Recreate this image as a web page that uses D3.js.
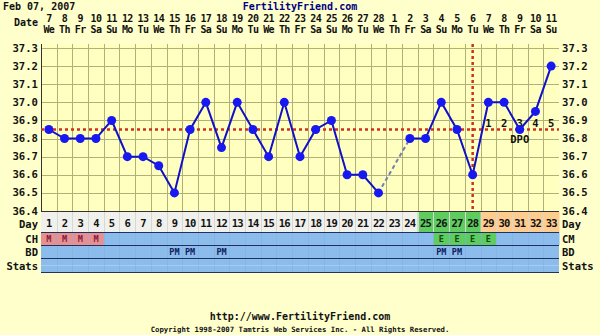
<!DOCTYPE html>
<html><head><meta charset="utf-8">
<script src="https://cdn.jsdelivr.net/npm/d3@7"></script>
<style>
html,body{margin:0;padding:0;background:#FFFFCC;}
svg{display:block;}
text{font-family:"DejaVu Sans Mono",monospace;font-weight:bold;}
</style></head><body>
<script>
const dayNumbers = d3.range(1, 34);
const dateLabels = ["7","8","9","10","11","12","13","14","15","16","17","18","19","20","21","22","23","24","25","26","27","28","1","2","3","4","5","6","7","8","9","10","11"];
const weekdays = ["We","Th","Fr","Sa","Su","Mo","Tu","We","Th","Fr","Sa","Su","Mo","Tu","We","Th","Fr","Sa","Su","Mo","Tu","We","Th","Fr","Sa","Su","Mo","Tu","We","Th","Fr","Sa","Su"];
const temps = [36.85,36.8,36.8,36.8,36.9,36.7,36.7,36.65,36.5,36.85,37.0,36.75,37.0,36.85,36.7,37.0,36.7,36.85,36.9,36.6,36.6,36.5,null,36.8,36.8,37.0,36.85,36.6,37.0,37.0,36.85,36.95,37.2];
const yTicks = [36.4,36.5,36.6,36.7,36.8,36.9,37.0,37.1,37.2,37.3];
const cmValues = ["M","M","M","M","","","","","","","","","","","","","","","","","","","","","","E","E","E","E","","","",""];
const bdValues = ["","","","","","","","","PM","PM","","PM","","","","","","","","","","","","","","PM","PM","","","","","",""];
const dayPhase = ["n","n","n","n","n","n","n","n","n","n","n","n","n","n","n","n","n","n","n","n","n","n","n","n","f","f","f","f","l","l","l","l","l"];
const coverline = 36.85;
const ovulationDay = 28;
const dpoLabels = ["1","2","3","4","5"];

const W = 600, H = 335;
const svg = d3.select("body").append("svg").attr("width", W).attr("height", H);
svg.append("rect").attr("width", W).attr("height", H).attr("fill", "#FFFFCC");

const x = d3.scaleBand().domain(dayNumbers).range([41, 559]).padding(0);
const xc = d => x(d) + x.bandwidth() / 2;
const y = d3.scaleLinear().domain([36.4, 37.3]).range([211, 48]);

// plot background
svg.append("rect").attr("x", 41).attr("y", 44).attr("width", 518).attr("height", 167).attr("fill", "#FFFFC0");

// grid
const grid = svg.append("g").attr("stroke", "#B0B078").attr("stroke-width", 1);
grid.selectAll("line.v").data(dayNumbers.slice(1)).join("line")
  .attr("x1", d => Math.round(x(d)) + 0.5).attr("x2", d => Math.round(x(d)) + 0.5)
  .attr("y1", 44).attr("y2", 211);
grid.selectAll("line.h").data(yTicks.slice(1)).join("line")
  .attr("x1", 41).attr("x2", 559)
  .attr("y1", d => Math.round(y(d)) + 0.5).attr("y2", d => Math.round(y(d)) + 0.5);
svg.append("line").attr("x1", 41.5).attr("x2", 41.5).attr("y1", 44).attr("y2", 212).attr("stroke", "#333").attr("stroke-width", 1);
svg.append("line").attr("x1", 41).attr("x2", 559).attr("y1", 211.5).attr("y2", 211.5).attr("stroke", "#333");

// y axis labels
const yl = svg.append("g").attr("font-size", 10.6).attr("fill", "#111");
yl.selectAll("text.l").data(yTicks).join("text")
  .attr("x", 38).attr("y", d => y(d) + 3.5).attr("text-anchor", "end")
  .text(d => d.toFixed(1));
yl.selectAll("text.r").data(yTicks).join("text")
  .attr("x", 562).attr("y", d => y(d) + 3.5).attr("text-anchor", "start")
  .text(d => d.toFixed(1));

// header
svg.append("text").attr("x", 3).attr("y", 9.5).attr("font-size", 10).attr("fill", "#111").text("Feb 07, 2007");
svg.append("text").attr("x", 300).attr("y", 9.5).attr("font-size", 10).attr("fill", "#000080").attr("text-anchor", "middle").text("FertilityFriend.com");
svg.append("text").attr("x", 38).attr("y", 26).attr("font-size", 10).attr("fill", "#111").attr("text-anchor", "end").text("Date");
svg.append("g").selectAll("text").data(dayNumbers).join("text")
  .attr("x", d => xc(d)).attr("y", 22).attr("font-size", 10).attr("fill", "#111")
  .attr("text-anchor", "middle").attr("letter-spacing", -0.6).text(d => dateLabels[d - 1]);
svg.append("g").selectAll("text").data(dayNumbers).join("text")
  .attr("x", d => xc(d)).attr("y", 33).attr("font-size", 10).attr("fill", "#111")
  .attr("text-anchor", "middle").attr("letter-spacing", -0.6).text(d => weekdays[d - 1]);

// rows
const rowDay = [212, 232], rowCM = [232, 245], rowBD = [245, 258], rowSt = [258, 272];
const phaseColor = {n: "#F0F0EC", f: "#5FCC5F", l: "#FFCC90"};
svg.append("g").selectAll("rect").data(dayNumbers).join("rect")
  .attr("x", d => x(d)).attr("y", rowDay[0]).attr("width", x.bandwidth() + 0.5).attr("height", rowDay[1] - rowDay[0])
  .attr("fill", d => phaseColor[dayPhase[d - 1]]);
svg.append("g").selectAll("line").data(dayNumbers.slice(1)).join("line")
  .attr("x1", d => Math.round(x(d)) + 0.5).attr("x2", d => Math.round(x(d)) + 0.5)
  .attr("y1", rowDay[0]).attr("y2", rowDay[1]).attr("stroke", "#D8D8D0");
svg.append("g").selectAll("text").data(dayNumbers).join("text")
  .attr("x", d => xc(d)).attr("y", 227).attr("font-size", 10.5).attr("fill", "#111")
  .attr("text-anchor", "middle").attr("letter-spacing", -0.8).text(d => d);

const blue = "#8CBCEC";
svg.append("g").selectAll("rect").data(dayNumbers).join("rect")
  .attr("x", d => x(d)).attr("y", rowCM[0]).attr("width", x.bandwidth() + 0.5).attr("height", rowCM[1] - rowCM[0])
  .attr("fill", d => cmValues[d - 1] === "M" ? "#E89090" : cmValues[d - 1] === "E" ? "#5FCC5F" : blue);
svg.append("g").selectAll("text").data(dayNumbers.filter(d => cmValues[d - 1])).join("text")
  .attr("x", d => xc(d)).attr("y", 242).attr("font-size", 8.5).attr("text-anchor", "middle")
  .attr("fill", d => cmValues[d - 1] === "M" ? "#802040" : "#104810").text(d => cmValues[d - 1]);

svg.append("rect").attr("x", 41).attr("y", rowBD[0]).attr("width", 518).attr("height", rowBD[1] - rowBD[0]).attr("fill", blue);
svg.append("g").selectAll("text").data(dayNumbers.filter(d => bdValues[d - 1])).join("text")
  .attr("x", d => xc(d)).attr("y", 255).attr("font-size", 8.5).attr("text-anchor", "middle")
  .attr("fill", "#102060").text(d => bdValues[d - 1]);
svg.append("rect").attr("x", 41).attr("y", rowSt[0]).attr("width", 518).attr("height", rowSt[1] - rowSt[0]).attr("fill", blue);
svg.append("line").attr("x1", 41).attr("x2", 559).attr("y1", 265.5).attr("y2", 265.5).attr("stroke", "#A8CCF0");
svg.append("g").selectAll("line").data(dayNumbers.slice(1)).join("line")
  .attr("x1", d => Math.round(x(d)) + 0.5).attr("x2", d => Math.round(x(d)) + 0.5)
  .attr("y1", rowCM[0]).attr("y2", rowSt[1]).attr("stroke", "#80B0E0").attr("stroke-opacity", 0.6);
const sep = svg.append("g").attr("stroke", "#203060");
[rowDay[1], rowCM[1], rowBD[1], rowSt[1]].forEach(v => sep.append("line").attr("x1", 41).attr("x2", 559).attr("y1", v + 0.5).attr("y2", v + 0.5));

const rowLabels = svg.append("g").attr("font-size", 10.5).attr("fill", "#111");
[["Day", 228], ["CH", 243], ["BD", 256], ["Stats", 270]].forEach(([t, yy]) =>
  rowLabels.append("text").attr("x", 38).attr("y", yy).attr("text-anchor", "end").text(t));
[["Day", 228], ["CM", 243], ["BD", 256], ["Stats", 270]].forEach(([t, yy]) =>
  rowLabels.append("text").attr("x", 562).attr("y", yy).text(t));

// coverline & ovulation line
svg.append("line").attr("x1", 41).attr("x2", 559).attr("y1", y(coverline)).attr("y2", y(coverline))
  .attr("stroke", "#D03020").attr("stroke-width", 2.5).attr("stroke-dasharray", "3,3");
svg.append("line").attr("x1", xc(ovulationDay)).attr("x2", xc(ovulationDay)).attr("y1", 44).attr("y2", 211)
  .attr("stroke", "#D03020").attr("stroke-width", 2.5).attr("stroke-dasharray", "3,3");

// dpo labels
svg.append("g").selectAll("text").data(dpoLabels).join("text")
  .attr("x", (d, i) => xc(ovulationDay + 1 + i)).attr("y", y(coverline) - 3).attr("font-size", 10.5)
  .attr("text-anchor", "middle").attr("fill", "#111").text(d => d);
svg.append("text").attr("x", xc(31)).attr("y", y(coverline) + 13).attr("font-size", 10.5)
  .attr("text-anchor", "middle").attr("fill", "#111").text("DPO");

// temperature line
const pts = dayNumbers.map(d => ({d, t: temps[d - 1]}));
const line = d3.line().defined(p => p.t !== null).x(p => xc(p.d)).y(p => y(p.t));
svg.append("path").datum(pts).attr("d", line).attr("fill", "none").attr("stroke", "#1010C8").attr("stroke-width", 2);
// gap dashed segments
const valid = pts.filter(p => p.t !== null);
const gaps = [];
for (let i = 1; i < valid.length; i++) if (valid[i].d - valid[i - 1].d > 1) gaps.push([valid[i - 1], valid[i]]);
svg.append("g").selectAll("path").data(gaps).join("path")
  .attr("d", g => d3.line().x(p => xc(p.d)).y(p => y(p.t))(g))
  .attr("fill", "none").attr("stroke", "#7080B0").attr("stroke-width", 2).attr("stroke-dasharray", "4,3");
svg.append("g").selectAll("circle").data(valid).join("circle")
  .attr("cx", p => xc(p.d)).attr("cy", p => y(p.t)).attr("r", 4.5).attr("fill", "#1818F0");

// footer
svg.append("text").attr("x", 300).attr("y", 320).attr("font-size", 10).attr("text-anchor", "middle").attr("fill", "#111").text("http://www.FertilityFriend.com");
svg.append("text").attr("x", 300).attr("y", 332).attr("font-size", 7.3).attr("font-weight", "normal").attr("text-anchor", "middle").attr("fill", "#111").text("Copyright 1998-2007 Tamtris Web Services Inc. - All Rights Reserved.");
</script>
</body></html>
